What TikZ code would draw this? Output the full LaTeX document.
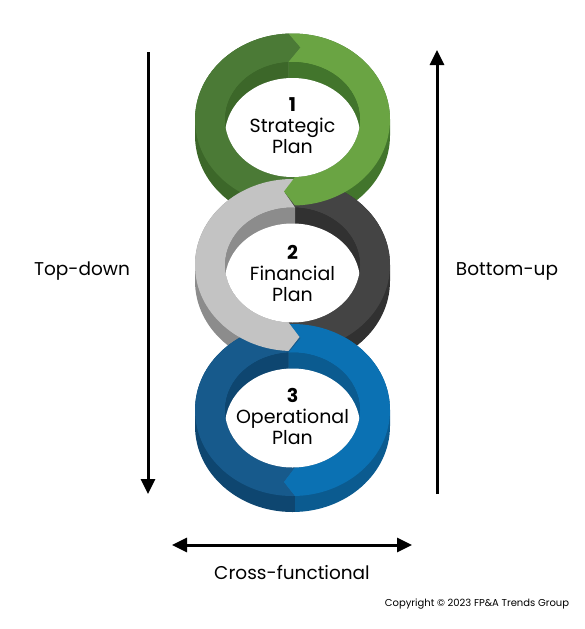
\documentclass[tikz,border=0pt]{standalone}
\usepackage{fontspec}
\setmainfont{Poppins}
\usetikzlibrary{arrows.meta, positioning}

\definecolor{greenlight}{HTML}{6AA443}
\definecolor{greendark}{HTML}{4B7A36}
\definecolor{greenwallL}{HTML}{3C6729}
\definecolor{greenwallR}{HTML}{42752C}
\definecolor{graylight}{HTML}{C3C3C3}
\definecolor{graydark}{HTML}{444444}
\definecolor{graywallL}{HTML}{8C8C8C}
\definecolor{graywallR}{HTML}{313131}
\definecolor{bluelight}{HTML}{0B71B3}
\definecolor{bluedark}{HTML}{175A8C}
\definecolor{bluewallL}{HTML}{0E4670}
\definecolor{bluewallR}{HTML}{0B5B90}

% half of a ring: cut along the two chevrons
\newcommand{\halfclip}[7]{%
  \clip ({#1+#3},{#2-250}) -- ({#1+#3},{#2-86}) -- ({#1+#3+#4},{#2-72}) -- ({#1+#3},{#2-57.5})
    -- ({#1+#3},#2) -- ({#1+#5},#2) -- ({#1+#5},{#2+57.5}) -- ({#1+#5+#6},{#2+72})
    -- ({#1+#5},{#2+86}) -- ({#1+#5},{#2+250}) -- ({#1+#7},{#2+250}) -- ({#1+#7},{#2-250}) -- cycle;}
% outer side of a ring
\newcommand{\ringwall}[3]{%
  \fill[#3] ({#1+97.5},#2) arc[start angle=0, end angle=180, x radius=97.5pt, y radius=86pt]
    -- ++(0,16) arc[start angle=180, end angle=360, x radius=97.5pt, y radius=86pt] -- cycle;}
% top face of a ring and the inner side of its hole
\newcommand{\ringface}[4]{%
  \fill[#3, even odd rule] (#1,#2) ellipse[x radius=97.5pt, y radius=86pt]
    (#1,#2) ellipse[x radius=67.5pt, y radius=57.5pt];
  \fill[#4] (#1,#2) ellipse[x radius=67.5pt, y radius=57.5pt];}

\begin{document}
\begin{tikzpicture}[
  x=1pt, y=-1pt,
  ringlabel/.style={align=center, font=\fontsize{19}{21}\selectfont},
  sidelabel/.style={font=\fontsize{18.5}{22}\selectfont},
  bigarrow/.style={line width=3pt, -{Triangle[length=15pt, width=14pt]}},
  both/.style={line width=3pt, {Triangle[length=15pt, width=14pt]}-{Triangle[length=15pt, width=14pt]}}
]
\useasboundingbox (0,0) rectangle (584,629);

% side walls
\foreach \cx/\cy/\tb/\tt/\bb/\bt/\far/\col in {
  292.5/119.5/-4/12/2.5/-11/-300/greenwallL, 292.5/119.5/-4/12/2.5/-11/300/greenwallR,
  292.5/265/2.5/-10/-4/11/-300/graywallL, 292.5/265/2.5/-10/-4/11/300/graywallR,
  292.5/410/-4/12/2.5/-11/-300/bluewallL, 292.5/410/-4/12/2.5/-11/300/bluewallR}
  {\begin{scope}\halfclip{\cx}{\cy}{\tb}{\tt}{\bb}{\bt}{\far}\ringwall{\cx}{\cy}{\col}\end{scope}}

% faces, back to front
\foreach \cx/\cy/\tb/\tt/\bb/\bt/\far/\col/\wall in {
  292.5/119.5/-4/12/2.5/-11/-300/greendark/greenwallL,
  292.5/265/2.5/-10/-4/11/300/graydark/graywallR,
  292.5/410/-4/12/2.5/-11/-300/bluedark/bluewallL,
  292.5/410/-4/12/2.5/-11/300/bluelight/bluewallR,
  292.5/265/2.5/-10/-4/11/-300/graylight/graywallL,
  292.5/119.5/-4/12/2.5/-11/300/greenlight/greenwallR}
  {\begin{scope}\halfclip{\cx}{\cy}{\tb}{\tt}{\bb}{\bt}{\far}\ringface{\cx}{\cy}{\col}{\wall}\end{scope}}

% see-through holes
\foreach \cy in {119.5, 265, 410}
  {\begin{scope}
    \clip (292.5,\cy) ellipse[x radius=67.5pt, y radius=57.5pt];
    \fill[white] (292.5,{\cy+16}) ellipse[x radius=67.5pt, y radius=57.5pt];
  \end{scope}}

\node[ringlabel] (strategic) at (292.5,126) {\textbf{1}\\Strategic\\Plan};
\node[ringlabel] (financial) at (292.5,273) {\textbf{2}\\Financial\\Plan};
\node[ringlabel] (operational) at (292.5,416) {\textbf{3}\\Operational\\Plan};

\coordinate (downtop) at (148,52);
\coordinate (downbot) at (148,494);
\coordinate (upbot) at (437,494);
\coordinate (uptop) at (437,50);
\coordinate (crossL) at (172,545);
\coordinate (crossR) at (412,545);

\draw[bigarrow] (downtop) -- (downbot);
\draw[bigarrow] (upbot) -- (uptop);
\draw[both] (crossL) -- (crossR);

\node[sidelabel] (topdown) at (82,271) {Top-down};
\node[sidelabel] (bottomup) at (507,271) {Bottom-up};
\node[sidelabel] (crossfn) at (292,573) {Cross-functional};
\node[font=\fontsize{10}{12}\selectfont] (copyright) at (477,604) {Copyright © 2023 FP\&A Trends Group};
\end{tikzpicture}
\end{document}
